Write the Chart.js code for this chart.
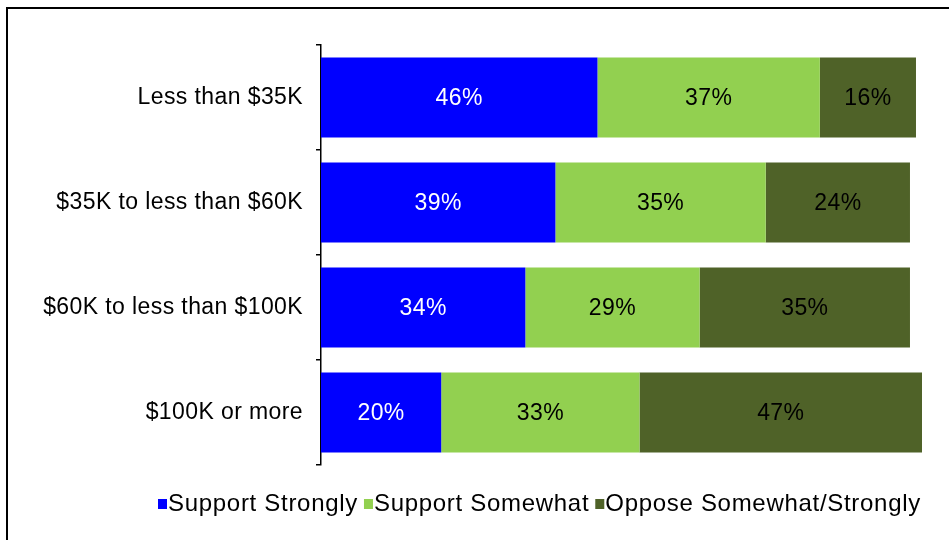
<!DOCTYPE html>
<html>
<head>
<meta charset="utf-8">
<script src="https://cdn.jsdelivr.net/npm/chart.js@4.4.1/dist/chart.umd.min.js"></script>
<style>
  html, body { margin: 0; padding: 0; background: #fff; }
  #wrap { position: relative; width: 949px; height: 540px; }
  #frame { position: absolute; left: 6px; top: 7px; right: -2px; bottom: -2px; border-left: 2px solid #000; border-top: 2px solid #000; }
  canvas { position: absolute; left: 0; top: 0; }
</style>
</head>
<body>
<div id="wrap">
  <div id="frame"></div>
  <canvas id="chart" width="949" height="540"></canvas>
</div>
<script>
const categories = ['Less than $35K', '$35K to less than $60K', '$60K to less than $100K', '$100K or more'];
const seriesNames = ['Support Strongly', 'Support Somewhat', 'Oppose Somewhat/Strongly'];
const supportStrongly = [46, 39, 34, 20];
const supportSomewhat = [37, 35, 29, 33];
const opposeSomewhat = [16, 24, 35, 47];
const seriesColors = ['#0000ff', '#92d050', '#4f6228'];
const labelColors = ['#ffffff', '#000000', '#000000'];

const FONT = '"Liberation Sans", Arial, sans-serif';
const SPACING = '0.4px';

// slightly wider text, like the original rendering
const textSpacing = {
    id: 'textSpacing',
    beforeLayout(chart) { chart.ctx.letterSpacing = SPACING; },
    beforeDraw(chart) { chart.ctx.letterSpacing = SPACING; }
};

// value labels in the middle of each segment
const valueLabels = {
    id: 'valueLabels',
    afterDatasetsDraw(chart) {
        const ctx = chart.ctx;
        ctx.save();
        ctx.font = '23px ' + FONT;
        ctx.textAlign = 'center';
        ctx.textBaseline = 'middle';
        chart.data.datasets.forEach((ds, i) => {
            chart.getDatasetMeta(i).data.forEach((bar, j) => {
                const p = bar.getProps(['x', 'y', 'base'], true);
                ctx.fillStyle = labelColors[i];
                ctx.fillText(ds.data[j] + '%', (p.x + p.base) / 2, p.y + 1);
            });
        });
        ctx.restore();
    }
};

// legend drawn tight like the original
const tightLegend = {
    id: 'tightLegend',
    afterDraw(chart) {
        const ctx = chart.ctx;
        ctx.save();
        ctx.font = '24px ' + FONT;
        ctx.letterSpacing = '0.7px';
        ctx.textBaseline = 'middle';
        let x = 158;
        const y = 504;
        chart.data.datasets.forEach((ds, i) => {
            ctx.fillStyle = ds.backgroundColor;
            ctx.fillRect(x, y - 5, 9, 10);
            x += 10;
            ctx.fillStyle = '#000';
            ctx.fillText(ds.label, x, y);
            x += ctx.measureText(ds.label).width + 6;
        });
        ctx.restore();
    }
};

new Chart(document.getElementById('chart'), {
    type: 'bar',
    data: {
        labels: categories,
        datasets: [
            { label: seriesNames[0], data: supportStrongly, backgroundColor: seriesColors[0] },
            { label: seriesNames[1], data: supportSomewhat, backgroundColor: seriesColors[1] },
            { label: seriesNames[2], data: opposeSomewhat, backgroundColor: seriesColors[2] }
        ]
    },
    options: {
        indexAxis: 'y',
        responsive: false,
        animation: false,
        categoryPercentage: 0.76,
        barPercentage: 1,
        layout: { padding: { top: 45, right: 27, bottom: 75, left: 0 } },
        scales: {
            x: { stacked: true, min: 0, max: 100, display: false },
            y: {
                stacked: true,
                afterFit: (scale) => { scale.width = 321; },
                border: { display: true, color: '#000', width: 1.5 },
                grid: { drawOnChartArea: false, tickLength: 5, color: '#000', lineWidth: 1.5, offset: true },
                ticks: { color: '#000', padding: 13, font: { family: FONT, size: 23 } }
            }
        },
        plugins: {
            legend: { display: false },
            tooltip: { enabled: false }
        }
    },
    plugins: [textSpacing, valueLabels, tightLegend]
});
</script>
</body>
</html>
